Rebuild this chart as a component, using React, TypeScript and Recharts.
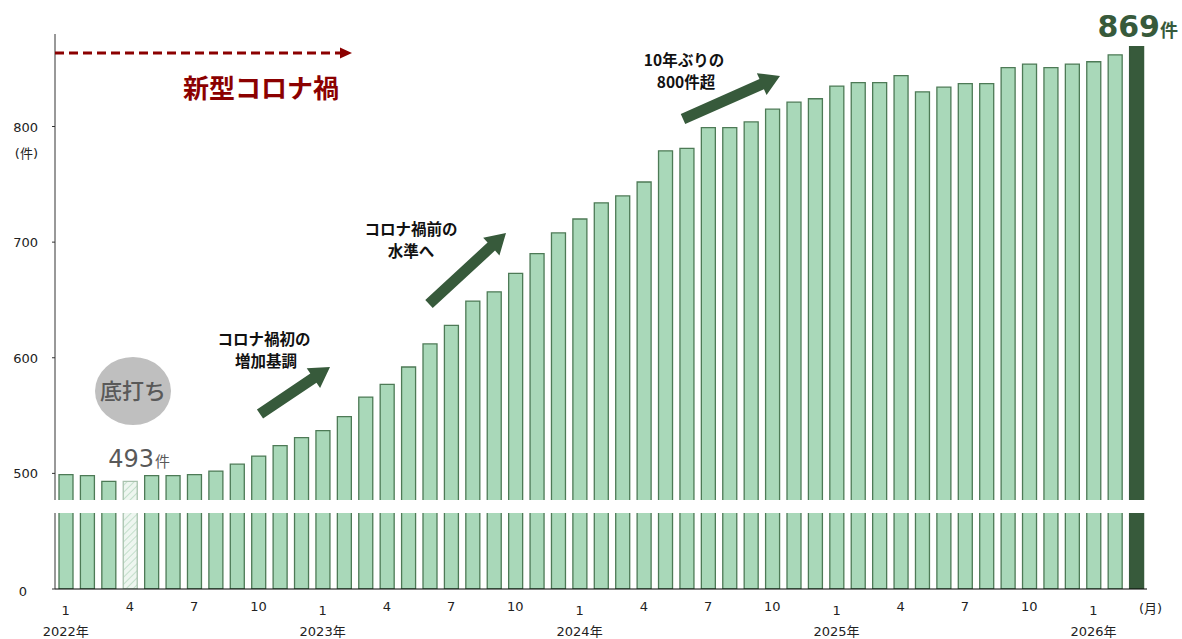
import React from 'react';
import { BarChart, Bar, XAxis, YAxis, Cell } from 'recharts';

// 月次件数 (2022年1月〜2026年3月)
const periods = [
  '2022-01', '2022-02', '2022-03', '2022-04', '2022-05', '2022-06', '2022-07', '2022-08', '2022-09', '2022-10', '2022-11', '2022-12',
  '2023-01', '2023-02', '2023-03', '2023-04', '2023-05', '2023-06', '2023-07', '2023-08', '2023-09', '2023-10', '2023-11', '2023-12',
  '2024-01', '2024-02', '2024-03', '2024-04', '2024-05', '2024-06', '2024-07', '2024-08', '2024-09', '2024-10', '2024-11', '2024-12',
  '2025-01', '2025-02', '2025-03', '2025-04', '2025-05', '2025-06', '2025-07', '2025-08', '2025-09', '2025-10', '2025-11', '2025-12',
  '2026-01', '2026-02', '2026-03',
];

const counts = [
  499, 498, 493, 493, 498, 498, 499, 502, 508, 515, 524, 531,
  537, 549, 566, 577, 592, 612, 628, 649, 657, 673, 690, 708,
  720, 734, 740, 752, 779, 781, 799, 799, 804, 815, 821, 824,
  835, 838, 838, 844, 830, 834, 837, 837, 851, 854, 851, 854,
  856, 862, 869,
];

const yTicks = [400, 500, 600, 700, 800];
const shownMonths = [1, 4, 7, 10];
const bottomIndex = 3; // 底打ち (2022年4月)
const latestIndex = counts.length - 1;

const data = periods.map((p, i) => ({ period: p, count: counts[i] }));

const numFont = '"DejaVu Sans", "Noto Sans CJK JP", sans-serif';
const jpFont = '"Noto Sans CJK JP", sans-serif';
const darkGreen = '#375a3b';
const darkRed = '#8b0000';

const MonthTick = (props: any) => {
  const { x, y, payload } = props;
  const [yr, mo] = String(payload.value).split('-').map(Number);
  if (!shownMonths.includes(mo)) return null;
  return (
    <g>
      <text x={x} y={mo === 1 ? y + 26 : y + 22} textAnchor="middle" fontSize={13} fontFamily={numFont} fill="#222">
        {mo}
      </text>
      {mo === 1 && (
        <text x={x} y={y + 47} textAnchor="middle" fontSize={13} fontFamily={numFont} fill="#222">
          {yr}年
        </text>
      )}
    </g>
  );
};

const ValueTick = (props: any) => {
  const { x, y, payload } = props;
  const v = payload.value;
  if (v === 400) {
    return (
      <text x={x - 11} y={y + 7} textAnchor="end" fontSize={13} fontFamily={numFont} fill="#222">0</text>
    );
  }
  return (
    <g>
      <text x={x} y={y + 5} textAnchor="end" fontSize={13} fontFamily={numFont} fill="#222">{v}</text>
      {v === 800 && (
        <text x={x} y={y + 31} textAnchor="end" fontSize={13} fontFamily={numFont} fill="#222">(件)</text>
      )}
    </g>
  );
};

function blockArrow(x1: number, y1: number, x2: number, y2: number, shaft = 11, head = 24, headLen = 20) {
  const dx = x2 - x1;
  const dy = y2 - y1;
  const len = Math.hypot(dx, dy);
  const ux = dx / len;
  const uy = dy / len;
  const nx = -uy;
  const ny = ux;
  const bx = x2 - ux * headLen;
  const by = y2 - uy * headLen;
  const pts = [
    [x1 + nx * shaft / 2, y1 + ny * shaft / 2],
    [bx + nx * shaft / 2, by + ny * shaft / 2],
    [bx + nx * head / 2, by + ny * head / 2],
    [x2, y2],
    [bx - nx * head / 2, by - ny * head / 2],
    [bx - nx * shaft / 2, by - ny * shaft / 2],
    [x1 - nx * shaft / 2, y1 - ny * shaft / 2],
  ];
  return pts.map((p) => p.join(',')).join(' ');
}

export default function App() {
  return (
    <div style={{ position: 'relative', width: 1182, height: 639, background: '#fff' }}>
      <style>{'html, body { margin: 0; padding: 0; overflow: hidden; }'}</style>
      <svg width={0} height={0} style={{ position: 'absolute' }}>
        <defs>
          <pattern id="hatch" width="5" height="5" patternUnits="userSpaceOnUse" patternTransform="rotate(45)">
            <rect width="5" height="5" fill="#eef6f0" />
            <line x1="0" y1="0" x2="0" y2="5" stroke="#c3dfcb" strokeWidth="2" />
          </pattern>
        </defs>
      </svg>
      <BarChart
        width={1182}
        height={639}
        data={data}
        margin={{ top: 34, right: 35, bottom: 0, left: 0 }}
        barSize={14}
      >
        <XAxis
          dataKey="period"
          interval={0}
          tick={<MonthTick />}
          tickLine={false}
          tickSize={0}
          tickMargin={0}
          height={50}
          axisLine={{ stroke: '#000', strokeWidth: 1.2 }}
        />
        <YAxis
          domain={[400, 880]}
          ticks={yTicks}
          allowDataOverflow
          width={55}
          tick={<ValueTick />}
          tickSize={3}
          tickMargin={14}
          tickLine={{ stroke: '#333' }}
          axisLine={{ stroke: '#333' }}
        />
        <Bar dataKey="count" isAnimationActive={false} fill="#a9d8b9" stroke="#4d7a56" strokeWidth={1.3}>
          {data.map((d, i) => (
            <Cell
              key={d.period}
              fill={i === latestIndex ? darkGreen : i === bottomIndex ? 'url(#hatch)' : '#a9d8b9'}
              stroke={i === latestIndex ? darkGreen : i === bottomIndex ? '#a9c2ae' : '#4d7a56'}
            />
          ))}
        </Bar>
      </BarChart>

      <svg width={1182} height={639} style={{ position: 'absolute', left: 0, top: 0, pointerEvents: 'none' }}>
        {/* axis break band */}
        <rect x={48} y={500} width={1105} height={13} fill="#fff" />

        {/* 新型コロナ禍 */}
        <line x1={55} y1={53} x2={342} y2={53} stroke={darkRed} strokeWidth={3} strokeDasharray="9 5" />
        <polygon points="340,47.5 352,53 340,58.5" fill={darkRed} />
        <text x={261} y={98} textAnchor="middle" fontSize={26} fontWeight={700} fontFamily={jpFont} fill={darkRed}>
          新型コロナ禍
        </text>

        {/* 底打ち */}
        <ellipse cx={133} cy={391} rx={38} ry={34} fill="#bfbfbf" />
        <text x={133} y={399} textAnchor="middle" fontSize={22} fontWeight={500} fontFamily={jpFont} fill="#595959">底打ち</text>
        <text x={154} y={467} textAnchor="end" fontSize={24} fontFamily={numFont} fill="#595959">493</text>
        <text x={155} y={467} fontSize={15} fontFamily={jpFont} fill="#595959">件</text>

        {/* 869件 */}
        <text x={1160} y={37} textAnchor="end" fontSize={30} fontWeight={700} fontFamily={numFont} fill={darkGreen}>869</text>
        <text x={1160} y={37} fontSize={18} fontWeight={700} fontFamily={jpFont} fill={darkGreen}>件</text>

        {/* arrows */}
        <polygon points={blockArrow(260, 414, 330, 367)} fill={darkGreen} />
        <polygon points={blockArrow(429, 304, 506, 233)} fill={darkGreen} />
        <polygon points={blockArrow(683, 119, 780, 76)} fill={darkGreen} />

        <g fontFamily={jpFont} fontWeight={700} fontSize={15.5} fill="#111" textAnchor="middle">
          <text x={264} y={345}>コロナ禍初の</text>
          <text x={266} y={367}>増加基調</text>
          <text x={411} y={235}>コロナ禍前の</text>
          <text x={411} y={257}>水準へ</text>
          <text x={684} y={66}>10年ぶりの</text>
          <text x={686} y={88}>800件超</text>
        </g>

        <text x={1139} y={613} fontSize={13} fontFamily={numFont} fill="#222">(月)</text>
      </svg>
    </div>
  );
}
